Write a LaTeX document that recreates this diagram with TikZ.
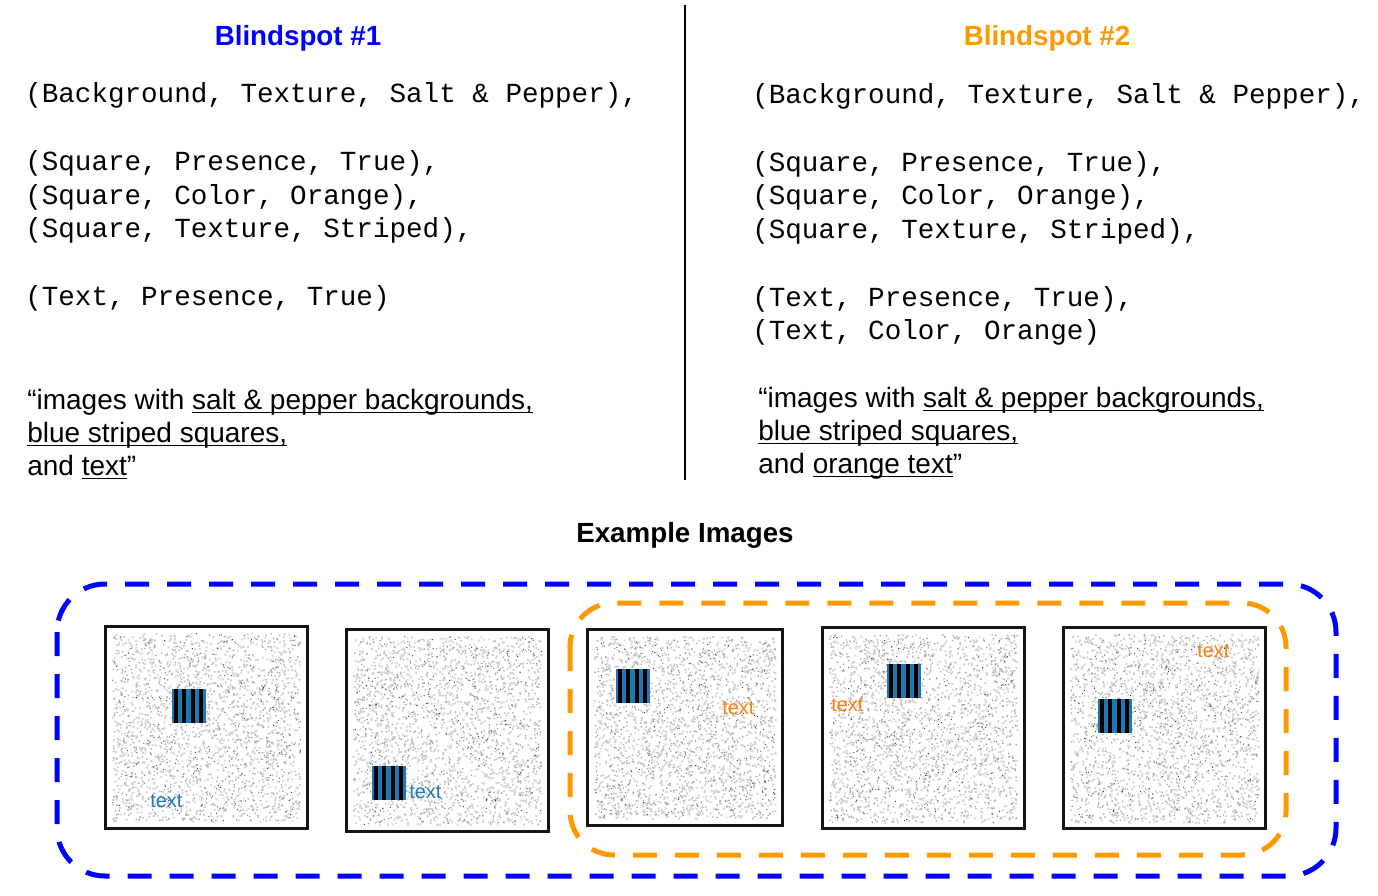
\documentclass[tikz,border=0pt]{standalone}
\usepackage{fontspec}
\setmainfont{Liberation Sans}
\newfontfamily\monofont{Liberation Mono}
\definecolor{headblue}{HTML}{0000FF}
\definecolor{headorange}{HTML}{FF9900}
\definecolor{stripeblue}{HTML}{1F77B4}
\definecolor{txtorange}{HTML}{FF7F0E}
\newcommand\myul[1]{\setbox0=\hbox{#1}\leavevmode\rlap{\rule[-3.3pt]{\wd0}{1.4pt}}\box0}
\newcommand\noisefill[5]{% seed, x, y, w, h
  \pgfmathsetseed{#1}
  \fill[black!17] \foreach \i in {1,...,1450}{ ({#2+rnd*#4},{#3+rnd*#5}) rectangle ++(1.9,1.9) };
  \fill[black!38] \foreach \i in {1,...,800}{ ({#2+rnd*#4},{#3+rnd*#5}) rectangle ++(1.3,1.3) };
  \fill[black!72] \foreach \i in {1,...,250}{ ({#2+rnd*#4},{#3+rnd*#5}) rectangle ++(1,1) };
}
\newcommand\stripesq[2]{% top-left x, y
  \fill[stripeblue] (#1,#2) rectangle ++(34,34);
  \foreach \k in {0,...,3}{ \fill[black] ({#1+1.5+\k*8.5},#2) rectangle ++(4.2,34); }
}
\tikzset{
  mono/.style={anchor=base west, inner sep=0pt, font=\monofont\fontsize{20.7}{25}\selectfont},
  quotetxt/.style={anchor=base west, inner sep=0pt, font=\fontsize{21}{25}\selectfont},
  headtxt/.style={anchor=base, inner sep=0pt, font=\bfseries\fontsize{20.8}{25}\selectfont},
  smalltxt/.style={anchor=base west, inner sep=0pt, font=\fontsize{15}{18}\selectfont},
  imgbox/.style={draw=black!92, line width=2.25pt},
  bluedash/.style={draw=headblue, line width=3.75pt, dash pattern=on 18pt off 13.5pt, rounded corners=36pt},
  orangedash/.style={draw=headorange, line width=3.75pt, dash pattern=on 18pt off 13.5pt, rounded corners=33pt},
}
\begin{document}
\begin{tikzpicture}[x=0.75pt,y=-0.75pt]
\useasboundingbox (0,0) rectangle (1378,896);

% divider
\draw[line width=1.9pt] (685,5) coordinate (divtop) -- (685,480) coordinate (divbot);

% headings
\node[headtxt, text=headblue] (h1) at (298,45) {Blindspot \#1};
\node[headtxt, text=headorange] (h2) at (1047,45) {Blindspot \#2};

% left column
\node[mono] (l1) at (25,102) {(Background, Texture, Salt \& Pepper),};
\node[mono] (l2) at (25,170) {(Square, Presence, True),};
\node[mono] (l3) at (25,204) {(Square, Color, Orange),};
\node[mono] (l4) at (25,237) {(Square, Texture, Striped),};
\node[mono] (l5) at (25,305) {(Text, Presence, True)};

% right column
\node[mono] (r1) at (752,103) {(Background, Texture, Salt \& Pepper),};
\node[mono] (r2) at (752,171) {(Square, Presence, True),};
\node[mono] (r3) at (752,204) {(Square, Color, Orange),};
\node[mono] (r4) at (752,238) {(Square, Texture, Striped),};
\node[mono] (r5) at (752,306) {(Text, Presence, True),};
\node[mono] (r6) at (752,339) {(Text, Color, Orange)};

% quotes
\node[quotetxt] (q1) at (27,409) {“images with \myul{salt \& pepper backgrounds,}};
\node[quotetxt] (q2) at (27,442) {\myul{blue striped squares,}};
\node[quotetxt] (q3) at (27,475) {and \myul{text}”};

\node[quotetxt] (s1) at (758,407) {“images with \myul{salt \& pepper backgrounds,}};
\node[quotetxt] (s2) at (758,440) {\myul{blue striped squares,}};
\node[quotetxt] (s3) at (758,473) {and \myul{orange text}”};

% example images heading
\node[headtxt] (ex) at (685,542) {Example Images};

% image 1
\noisefill{11}{112}{633}{188}{188}
\stripesq{172}{689}
\node[smalltxt, text=stripeblue] (t1) at (150,807) {text};
\draw[imgbox] (105,626) rectangle (307,828);

% image 2
\noisefill{22}{353}{636}{188}{188}
\stripesq{372}{766}
\node[smalltxt, text=stripeblue] (t2) at (409,798) {text};
\draw[imgbox] (346,629) rectangle (548,831);

% image 3
\noisefill{33}{594}{636}{181}{182}
\stripesq{616}{669}
\node[smalltxt, text=txtorange] (t3) at (722,714) {text};
\draw[imgbox] (587,629) rectangle (782,825);

% image 4
\noisefill{44}{829}{634}{188}{188}
\stripesq{887}{664}
\node[smalltxt, text=txtorange] (t4) at (831,711) {text};
\draw[imgbox] (822,627) rectangle (1024,828);

% image 5
\noisefill{55}{1070}{634}{188}{188}
\stripesq{1098}{699}
\node[smalltxt, text=txtorange] (t5) at (1197,657) {text};
\draw[imgbox] (1063,627) rectangle (1265,828);

% groups
\draw[bluedash] (57,584) rectangle (1336,876);
\draw[orangedash] (570,603) rectangle (1286,855);
\end{tikzpicture}
\end{document}
